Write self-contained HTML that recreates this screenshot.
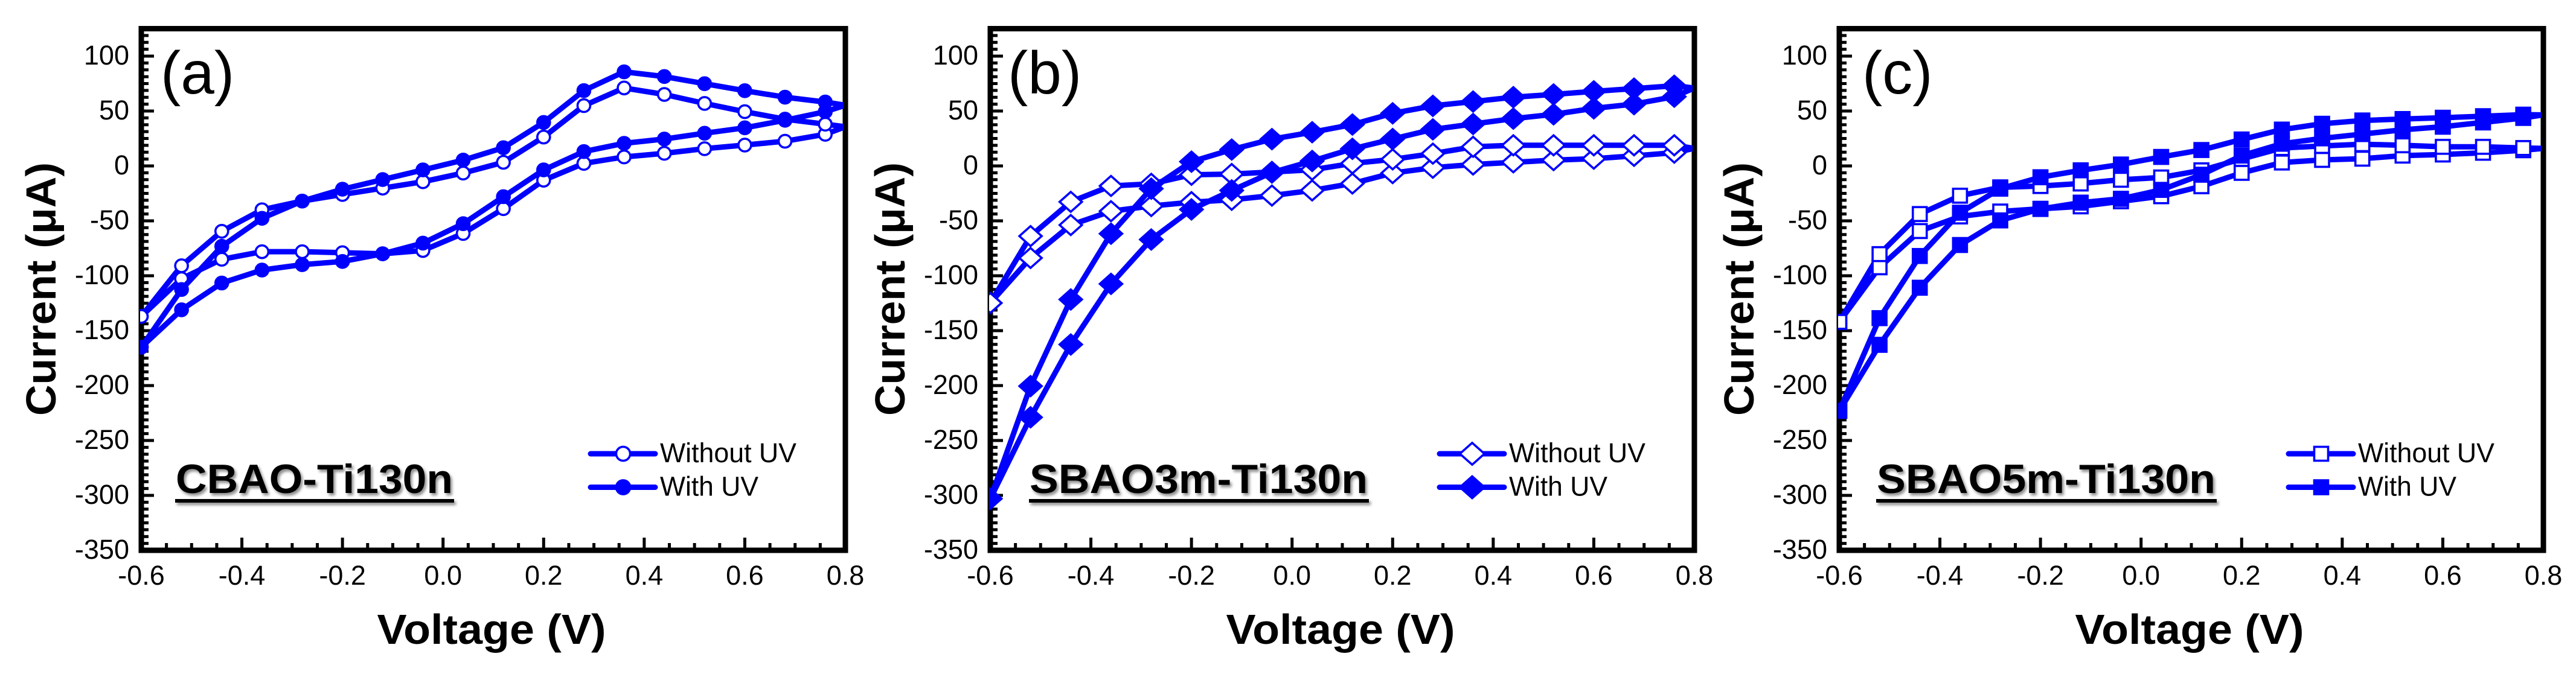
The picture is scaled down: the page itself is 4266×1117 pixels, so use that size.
<!DOCTYPE html>
<html lang="en">
<head>
<meta charset="utf-8">
<title>Current-voltage curves</title>
<style>
html,body{margin:0;padding:0;background:#fff;width:4266px;height:1117px;overflow:hidden}
svg{display:block}
text{font-family:"Liberation Sans",sans-serif;fill:#000}
</style>
</head>
<body>
<svg id="figure" xmlns="http://www.w3.org/2000/svg" width="4266" height="1117" viewBox="0 0 4266 1117">
<rect x="0" y="0" width="4266" height="1117" fill="#fff"/>
<defs>
<filter id="soft-shadow" x="-5%" y="-20%" width="110%" height="150%">
<feDropShadow dx="3" dy="4" stdDeviation="2.5" flood-color="#000" flood-opacity="0.45"/>
</filter>
</defs>
</svg>
<script>
// ---- shared axis data ----
const voltages = [-0.6,-0.52,-0.44,-0.36,-0.28,-0.2,-0.12,-0.04,0.04,0.12,0.2,0.28,0.36,0.44,0.52,0.6,0.68,0.76,0.8];
const xTickValues = [-0.6,-0.4,-0.2,0,0.2,0.4,0.6,0.8];
const xTickLabels = ['-0.6','-0.4','-0.2','0.0','0.2','0.4','0.6','0.8'];
const yTickValues = [100,50,0,-50,-100,-150,-200,-250,-300,-350];
const yTickLabels = ['100','50','0','-50','-100','-150','-200','-250','-300','-350'];

// ---- panel (a) CBAO-Ti130n ----
const aWithoutUpper = [-137,-90.9,-59.5,-39.9,-32,-26,-20.2,-14.4,-6.5,3.3,26.3,54.9,71,65.1,56.9,49.4,42.6,38,35.7];
const aWithoutLower = [-137,-102.7,-85,-78.1,-78.1,-79,-80,-77,-61.5,-38.9,-13,2.3,8.2,11.5,15.7,19,22.5,28.8,35.7];
const aWithUpper = [-165,-112.5,-73.2,-47.7,-32,-21.2,-12.4,-3.6,5.3,16.6,39.6,68.6,85.7,81.4,74.9,68.5,62.6,58.2,55.3];
const aWithLower = [-165,-131,-106.6,-94.8,-89.9,-87,-80,-70.3,-52.6,-28,-3.6,13.1,20.6,24.5,29.8,34.7,41.6,49.4,55.3];

// ---- panel (b) SBAO3m-Ti130n ----
const bWithoutUpper = [-124.8,-63.9,-32.7,-18.2,-16.3,-8,-7.4,-5.5,-3.5,2.3,6,11.2,17.4,18.8,18.8,18.8,18.8,18.8,16];
const bWithoutLower = [-124.8,-83.8,-53.8,-41.2,-36.5,-33,-30.8,-27,-22.3,-16,-6.5,-1.6,1.3,3.3,5.3,6.6,9.2,12.1,16];
const bWithUpper = [-303,-200.5,-121.6,-61.7,-20.7,3.9,14.9,24.4,30.7,37.7,47.9,54.7,58.6,62.6,65.1,67.9,70.4,73,71];
const bWithLower = [-303,-228.9,-162.6,-107.4,-67,-39.6,-22.3,-6,4.5,15.6,24.5,33.3,38.2,43.1,47,52.4,56.3,63.1,71];

// ---- panel (c) SBAO5m-Ti130n ----
const cWithoutUpper = [-142,-80.3,-43.8,-27.1,-19.5,-18.3,-16,-12.6,-10.5,-4,6.4,16.3,18.2,19.8,18.8,17.4,17.4,16.3,16];
const cWithoutLower = [-142,-92.3,-59.3,-46,-41.5,-39,-36.8,-32.2,-27.6,-18.5,-6.3,3.1,5.5,6.6,9.4,10.4,12,14.3,16];
const cWithUpper = [-223,-138.6,-82,-42.6,-20.7,-10.3,-4,1.3,8.2,14.5,24.1,33.1,38.4,41.4,42.7,43.9,45.3,46.7,46.5];
const cWithLower = [-223,-162.9,-110.9,-72,-49.6,-39.2,-33.4,-29.9,-21.8,-8,9.4,20.2,25.1,29,32.9,35.7,39.6,43.7,46.5];

const BLUE = '#0000ff';
const NS = 'http://www.w3.org/2000/svg';
const svg = document.getElementById('figure');
const PLOT_TOP = 47.5, PLOT_BOTTOM = 912;
const Y_MIN = -350, Y_MAX = 125, X_MIN = -0.6, X_MAX = 0.8;

function yScale(v){ return PLOT_BOTTOM - (v - Y_MIN) / (Y_MAX - Y_MIN) * (PLOT_BOTTOM - PLOT_TOP); }
function xScaleFor(left, right){ return v => left + (v - X_MIN) / (X_MAX - X_MIN) * (right - left); }

function make(tag, attrs, parent){
  const el = document.createElementNS(NS, tag);
  for (const k in attrs) el.setAttribute(k, attrs[k]);
  parent.appendChild(el);
  return el;
}

function drawMarker(parent, shape, filled, cx, cy, scale){
  const fill = filled ? BLUE : '#fff';
  const sw = 3.6;
  let el;
  if (shape === 'circle') {
    el = make('circle', {cx: cx, cy: cy, r: 10.5 * scale, fill: fill, stroke: BLUE, 'stroke-width': sw}, parent);
  } else if (shape === 'diamond') {
    const hw = 18.5 * scale;
    const hh = 16.5 * scale;
    el = make('polygon', {points: `${cx-hw},${cy} ${cx},${cy-hh} ${cx+hw},${cy} ${cx},${cy+hh}`, fill: fill, stroke: BLUE, 'stroke-width': sw}, parent);
  } else {
    const h = 11.5;
    el = make('rect', {x: cx-h, y: cy-h, width: 2*h, height: 2*h, fill: fill, stroke: BLUE, 'stroke-width': sw}, parent);
  }
  
  
}

function drawSeries(parent, upper, lower, shape, filled, xs){
  const g = make('g', {}, parent);
  
  
  const up = voltages.map((v, i) => `${xs(v).toFixed(1)},${yScale(upper[i]).toFixed(1)}`);
  const low = voltages.map((v, i) => `${xs(v).toFixed(1)},${yScale(lower[i]).toFixed(1)}`);
  const line = make('polyline', {points: up.concat(low.reverse()).join(' '), fill: 'none', stroke: BLUE, 'stroke-width': 9, 'stroke-linejoin': 'round'}, g);
  
  
  for (let i = 0; i < voltages.length - 1; i++) {
    drawMarker(g, shape, filled, xs(voltages[i]), yScale(lower[i]), 1);
  }
  for (let i = 0; i < voltages.length - 1; i++) {
    drawMarker(g, shape, filled, xs(voltages[i]), yScale(upper[i]), 1);
  }
}

function drawPanel(p){
  const xs = xScaleFor(p.left, p.right);
  const g = make('g', {}, svg);
  
  

  // clip for data
  const defs = make('defs', {}, g);
  const clip = make('clipPath', {id: p.id + '-clip'}, defs);
  make('rect', {x: p.left - 2, y: PLOT_TOP, width: p.right - p.left - 1, height: PLOT_BOTTOM - PLOT_TOP}, clip);

  // minor + major y ticks
  for (let i = 0; i <= 76; i++) {
    const val = Y_MIN + i * 6.25;
    if (val > Y_MAX) break;
    const major = i % 8 === 0;
    const t = make('line', {x1: p.left, x2: p.left + (major ? 21 : 12), y1: yScale(val), y2: yScale(val), stroke: '#000', 'stroke-width': 5}, g);
    
    
  }
  // minor + major x ticks
  for (let i = 0; i <= 28; i++) {
    const val = X_MIN + i * 0.05;
    const major = i % 4 === 0;
    const t = make('line', {y1: PLOT_BOTTOM, y2: PLOT_BOTTOM - (major ? 21 : 12), x1: xs(val), x2: xs(val), stroke: '#000', 'stroke-width': 5}, g);
    
    
  }

  // frame
  const frame = make('rect', {x: p.left, y: PLOT_TOP, width: p.right - p.left, height: PLOT_BOTTOM - PLOT_TOP, fill: 'none', stroke: '#000', 'stroke-width': 9}, g);
  
  

  // tick labels
  yTickValues.forEach((v, i) => {
    const t = make('text', {x: p.left - 20, y: yScale(v) + 14, 'text-anchor': 'end', 'font-size': 45}, g);
    t.textContent = yTickLabels[i];
    
    
  });
  xTickValues.forEach((v, i) => {
    const t = make('text', {x: xs(v), y: 969, 'text-anchor': 'middle', 'font-size': 45}, g);
    t.textContent = xTickLabels[i];
    
    
  });

  // axis titles
  const yt = make('text', {transform: `translate(${p.left - 142},479) rotate(-90)`, 'text-anchor': 'middle', 'font-size': 70, 'font-weight': 'bold', textLength: 420, lengthAdjust: 'spacingAndGlyphs'}, g);
  yt.textContent = 'Current (μA)';
  
  

  const xt = make('text', {x: p.left + 580, y: 1067, 'text-anchor': 'middle', 'font-size': 70, 'font-weight': 'bold', textLength: 379, lengthAdjust: 'spacingAndGlyphs'}, g);
  xt.textContent = 'Voltage (V)';
  
  

  // panel letter
  const letter = make('text', {x: p.letterX, y: 155, 'font-size': 100}, g);
  letter.textContent = p.letter;
  
  

  // data
  const dataG = make('g', {'clip-path': `url(#${p.id}-clip)`}, g);
  
  
  drawSeries(dataG, p.withoutUpper, p.withoutLower, p.shape, false, xs);
  drawSeries(dataG, p.withUpper, p.withLower, p.shape, true, xs);

  // sample label with underline and soft shadow
  const sg = make('g', {filter: 'url(#soft-shadow)'}, g);
  
  
  const st = make('text', {x: p.sampleX, y: 817, 'font-size': 68, 'font-weight': 'bold', textLength: p.sampleW, lengthAdjust: 'spacingAndGlyphs'}, sg);
  st.textContent = p.sample;
  
  
  const su = make('rect', {x: p.sampleX - 1, y: 827, width: p.sampleW + 3, height: 6, fill: '#000'}, sg);
  
  

  // legend
  const lx = p.left + 744;
  const entries = [
    {label: 'Without UV', filled: false, y: 752, w: 226},
    {label: 'With UV', filled: true, y: 807.5, w: 163}
  ];
  entries.forEach(en => {
    const lg = make('g', {}, g);
    
    
    const l = make('line', {x1: lx, x2: lx + 107, y1: en.y, y2: en.y, stroke: BLUE, 'stroke-width': 9, 'stroke-linecap': 'round'}, lg);
    
    
    drawMarker(lg, p.shape, en.filled, lx + 54, en.y, 1.1);
    const tx = make('text', {x: lx + 115, y: en.y + 14, 'font-size': 45, textLength: en.w, lengthAdjust: 'spacingAndGlyphs'}, lg);
    tx.textContent = en.label;
    
    
  });
}

drawPanel({id:'a', left:234, right:1400, letter:'(a)', letterX:266, sample:'CBAO-Ti130n', sampleX:291, sampleW:459, shape:'circle',
  withoutUpper:aWithoutUpper, withoutLower:aWithoutLower, withUpper:aWithUpper, withLower:aWithLower});
drawPanel({id:'b', left:1640, right:2806, letter:'(b)', letterX:1669, sample:'SBAO3m-Ti130n', sampleX:1705, sampleW:560, shape:'diamond',
  withoutUpper:bWithoutUpper, withoutLower:bWithoutLower, withUpper:bWithUpper, withLower:bWithLower});
drawPanel({id:'c', left:3046, right:4212, letter:'(c)', letterX:3084, sample:'SBAO5m-Ti130n', sampleX:3108, sampleW:561, shape:'square',
  withoutUpper:cWithoutUpper, withoutLower:cWithoutLower, withUpper:cWithUpper, withLower:cWithLower});
</script>
</body>
</html>
